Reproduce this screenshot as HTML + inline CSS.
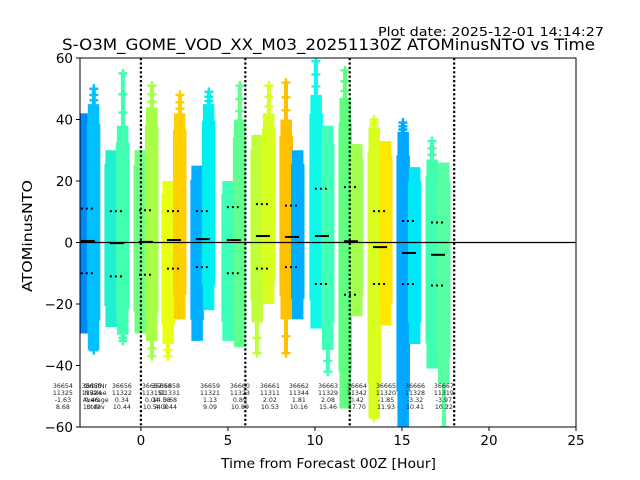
<!DOCTYPE html>
<html><head><meta charset="utf-8"><style>
body{margin:0;background:#fff;}
svg{display:block;font-family:"DejaVu Sans","Liberation Sans",sans-serif;}
</style></head><body>
<svg id="chart" width="640" height="480" viewBox="0 0 640 480">
<defs id="defs"></defs>
<text x="604" y="36" text-anchor="end" font-size="12.5" textLength="226" lengthAdjust="spacingAndGlyphs">Plot date: 2025-12-01 14:14:27</text>
<text x="62" y="50" font-size="16" textLength="533" lengthAdjust="spacingAndGlyphs">S-O3M_GOME_VOD_XX_M03_20251130Z ATOMinusNTO vs Time</text>
<g id="marks"></g>
<g id="axes"></g>
<text x="221" y="468" font-size="13.5" textLength="215" lengthAdjust="spacingAndGlyphs">Time from Forecast 00Z [Hour]</text>
<text transform="translate(32,292) rotate(-90)" font-size="13.5" textLength="112" lengthAdjust="spacingAndGlyphs">ATOMinusNTO</text>
</svg>
<script>
const hours=[-3.05,-1.38,0.29,1.9,3.56,5.34,7.01,8.68,10.4,12.07,13.74,15.4,17.07];
const means=[0.5,-0.2,0.2,0.8,1.1,0.8,2.1,1.8,2.1,0.4,-1.5,-3.4,-4.0];
const stdUp=[11,10.2,10.5,10.2,10.2,11.5,12.5,12,17.5,18,10.2,7,6.5];
const stdDn=[-10,-11,-10.5,-8.5,-8,-10,-8.5,-8,-13.5,-17,-13.5,-13.5,-14];
const leftTop=[42,30,30,20,25,20,35,40,48,47,37.5,36,27];
const rightTop=[45,38,44,42,45,40,42,30,38,32,33,24.5,26];
const leftBot=[-29.6,-27.5,-29.6,-33,-32,-32,-26,-25,-28,-54,-57,-60,-41];
const rightBot=[-35,-30,-32,-25,-22,-34,-20,-25,-35,-24,-27,-33,-46];
const maxv=[50,55,51,48,49,51,51,52,59,56,40,39,33];
const minv=[-35,-32,-37,-37,-30,-28,-36,-36,-42,-51,-57,-60,-60];
const leftColor=["#0088ff","#20f0d0","#70ff80","#e8ff10","#00b0ff","#40ffb8","#c0ff38","#ffc000","#10f8e8","#60ff80","#d8ff20","#00a8ff","#40ffb0"];
const rightColor=["#00c0ff","#40ffb0","#a8ff48","#ffd000","#00f0f0","#60ff90","#d8ff20","#00b0ff","#40ffb8","#a0ff50","#ffe800","#00e8f8","#58ffa0"];
const vlines=[0,6,12,18];
const xTicks=[0,5,10,15,20,25];
const yTicks=[-60,-40,-20,0,20,40,60];
const statHours=[-4.48,-2.82,-1.09,0.63,1.2,1.67,3.97,5.69,7.41,9.08,10.75,12.41,14.08,15.75,17.41];
const statOrbit=["36654","36655","36656","36657","36658","36658","36659","36660","36661","36662","36663","36664","36665","36666","36667"];
const statN=["11325","11324","11322","11315","11","11331","11321","11323","11311","11344","11329","11342","11320","11328","11319"];
const statAvg=["-1.63","0.46","0.34","0.04","14.58","0.68","1.13","0.89","2.02","1.81","2.08","0.42","-1.85","-3.32","-3.97"];
const statStd=["8.68","10.42","10.44","10.54","4.00","9.44","9.09","10.89","10.53","10.16","15.46","17.70","11.93","10.41","10.22"];
const rowNames=["OrbitNr","NValue","Average","Stdev"];

const L=80,R=576,T=58,B=427,X0=-3.5,X1=25,Y0=-60,Y1=60;
const sx=h=>L+(h-X0)/(X1-X0)*(R-L);
const sy=v=>B-(v-Y0)/(Y1-Y0)*(B-T);
const NS="http://www.w3.org/2000/svg";
const marks=document.getElementById('marks'), axes=document.getElementById('axes'), defs=document.getElementById('defs');
function mk(tag,attrs,parent){const e=document.createElementNS(NS,tag);for(const k in attrs)e.setAttribute(k,attrs[k]);parent.appendChild(e);return e;}
const clip=mk('clipPath',{id:'pc'},defs);mk('rect',{x:L,y:T,width:R-L,height:B-T},clip);
marks.setAttribute('clip-path','url(#pc)');
function plus(x,y,c,name){const g=mk('path',{d:`M${x-4.5},${y}h9M${x},${y-4.5}v9`,stroke:c,'stroke-width':2.4},marks);

}
function strip(x0,top,bot,c,name){
  const ty=sy(top),by=sy(bot);
  const r=mk('rect',{x:x0,y:ty,width:11.5,height:by-ty,fill:c},marks);
  
  
  const e=mk('rect',{x:x0-1,y:ty+(by-ty)*0.08,width:13.5,height:(by-ty)*0.8,fill:c},marks);
  
  
}
hours.forEach((h,i)=>{
  const cx=sx(h);
  strip(cx-11.5,leftTop[i],leftBot[i],leftColor[i],'scatter-strip-left-'+i);
  strip(cx,rightTop[i],rightBot[i],rightColor[i],'scatter-strip-right-'+i);
  const tl=Math.max(leftTop[i],rightTop[i]);
  const tc=leftTop[i]>=rightTop[i]?leftColor[i]:rightColor[i];
  const tx=leftTop[i]>=rightTop[i]?cx-6:cx+6;
  mk('rect',{x:tx-2,y:sy(maxv[i]),width:4,height:sy(tl)-sy(maxv[i]),fill:tc},marks);
  plus(tx,sy(maxv[i]),tc,'outlier-max-'+i);
  plus(tx,sy(tl+(maxv[i]-tl)*0.6),tc,'outlier-high-'+i);
  plus(tx,sy(tl+(maxv[i]-tl)*0.25),tc,'outlier-high2-'+i);
  const bl=Math.min(leftBot[i],rightBot[i]);
  const bc=leftBot[i]<=rightBot[i]?leftColor[i]:rightColor[i];
  const bx=leftBot[i]<=rightBot[i]?cx-6:cx+6;
  if(minv[i]<bl){mk('rect',{x:bx-2,y:sy(bl),width:4,height:sy(minv[i])-sy(bl),fill:bc},marks);
    plus(bx,sy(bl+(minv[i]-bl)*0.5),bc,'outlier-low-'+i);}
  plus(bx,sy(minv[i]),bc,'outlier-min-'+i);
  const m=mk('line',{x1:cx-7,x2:cx+7,y1:sy(means[i]),y2:sy(means[i]),stroke:'#000','stroke-width':2},marks);
  
  
  [stdUp[i],stdDn[i]].forEach((v,j)=>{const d=mk('line',{x1:cx-7,x2:cx+7,y1:sy(v),y2:sy(v),stroke:'#000','stroke-width':2,'stroke-dasharray':'2,3'},marks);
  
  });
});
const zl=mk('line',{x1:L,x2:R,y1:sy(0),y2:sy(0),stroke:'#000','stroke-width':1.2},axes);


vlines.forEach(h=>{const v=mk('line',{x1:sx(h),x2:sx(h),y1:T,y2:B,stroke:'#000','stroke-width':2.2,'stroke-dasharray':'2.2,2.2'},axes);

});
const st=mk('g',{'font-size':6.3,'text-anchor':'middle',fill:'#222'},axes);
statHours.forEach((h,i)=>{[statOrbit[i],statN[i],statAvg[i],statStd[i]].forEach((t,r)=>{
  const e=mk('text',{x:sx(h),y:388+r*7},st);e.textContent=t;
  
  });});
rowNames.forEach((t,r)=>{const e=mk('text',{x:sx(-2.6),y:388+r*7},st);e.textContent=t;
  
  });
const fr=mk('rect',{x:L,y:T,width:R-L,height:B-T,fill:'none',stroke:'#000','stroke-width':1},axes);


xTicks.forEach(t=>{const x=sx(t);mk('line',{x1:x,x2:x,y1:B,y2:B+4,stroke:'#000'},axes);
  const e=mk('text',{x:x,y:B+18,'font-size':13.5,'text-anchor':'middle'},axes);e.textContent=t;
  
  });
yTicks.forEach(t=>{const y=sy(t);mk('line',{x1:L-4,x2:L,y1:y,y2:y,stroke:'#000'},axes);
  const e=mk('text',{x:L-7,y:y+5,'font-size':13.5,'text-anchor':'end'},axes);e.textContent=t<0?'\u2212'+(-t):t;
  
  });
</script>
</body></html>
